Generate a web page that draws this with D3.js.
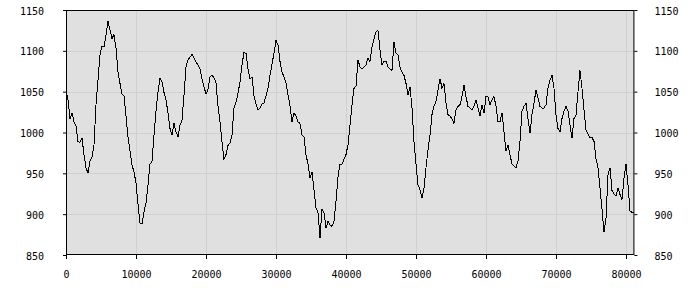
<!DOCTYPE html>
<html>
<head>
<meta charset="utf-8">
<script src="https://cdn.jsdelivr.net/npm/d3@7"></script>
<style>
  body { margin: 0; background: #fff; }
  svg { display: block; }
</style>
</head>
<body>
<svg id="chart" width="700" height="300"></svg>
<script>
// values, one sample every 2 px of the plot
const xStep = 20000 / 70;
const yValues = [
  1052, 1040, 1017, 1024, 1013, 1008, 989, 988, 993, 973, 957, 950, 965, 970, 985, 1034, 1064, 1095, 1106, 1105,
  1119, 1136, 1126, 1115, 1120, 1103, 1074, 1060, 1047, 1045, 1020, 995, 977, 960, 952, 938, 912, 889, 888, 903,
  914, 936, 961, 965, 997, 1026, 1050, 1066, 1062, 1049, 1040, 1024, 1005, 997, 1011, 1001, 995,
  1009, 1015, 1046, 1080, 1089, 1092, 1096, 1091, 1086, 1083, 1078, 1066, 1056, 1047, 1053, 1068, 1070, 1067, 1061, 1032,
  1013, 989, 967, 973, 984, 987, 997, 1030, 1037, 1048, 1062, 1083, 1098, 1097, 1078, 1066, 1068, 1045, 1035, 1028,
  1030, 1035, 1036, 1045, 1054, 1070, 1084, 1097, 1113, 1107, 1087, 1074, 1068, 1061, 1046, 1033, 1013,
  1024, 1020, 1013, 1011, 997, 995, 973, 961, 944, 952, 930, 908, 902, 871, 906, 902, 883, 891, 887, 885,
  891, 916, 946, 961, 961, 967, 973, 985, 1009, 1034, 1054, 1057, 1089, 1080, 1078, 1080, 1083, 1091, 1087, 1105,
  1115, 1123, 1125, 1101, 1083, 1087, 1087, 1080, 1078, 1076, 1111, 1097, 1095, 1080, 1074, 1070, 1060,
  1046, 1056, 1030, 989, 961, 936, 930, 920, 932, 957, 979, 997, 1022, 1032, 1038, 1052, 1066, 1054, 1060, 1036,
  1022, 1020, 1017, 1011, 1028, 1032, 1034, 1044, 1058, 1044, 1032, 1030, 1028, 1032, 1040, 1030, 1020, 1034, 1024, 1044,
  1044, 1034, 1040, 1044, 1032, 1013, 1013, 1024, 1001, 977, 985, 973, 961, 959, 957, 965, 989,
  1026, 1032, 1036, 1017, 999, 1022, 1036, 1052, 1042, 1032, 1030, 1030, 1034, 1054, 1064, 1070, 1054, 1022, 1005, 1001,
  1017, 1026, 1032, 1026, 1009, 993, 1017, 1021, 1050, 1076, 1054, 1028, 1003, 998, 994, 994, 989, 968, 957, 932,
  906, 878, 895, 948, 957, 929, 925, 922, 932, 924, 918, 944, 961, 936, 904, 902, 902
];
const xTicks = [0, 10000, 20000, 30000, 40000, 50000, 60000, 70000, 80000];
const yTicks = [850, 900, 950, 1000, 1050, 1100, 1150];
const xMax = 81200;

const margin = { left: 66, top: 10 };
const innerWidth = (xMax / 10000) * 70;
const innerHeight = 245;

const svg = d3.select('#chart');

const xScale = d3.scaleLinear().domain([0, xMax]).range([0, innerWidth]);
const yScale = d3.scaleLinear().domain([850, 1150]).range([innerHeight, 0]);
const plain = d3.format('d');

const g = svg.append('g')
  .attr('transform', `translate(${margin.left},${margin.top})`);

g.append('rect')
  .attr('width', innerWidth)
  .attr('height', innerHeight)
  .attr('fill', '#e0e0e0');

// grid
g.append('g')
  .selectAll('line')
  .data(yTicks.slice(1, -1))
  .join('line')
  .attr('x1', 0)
  .attr('x2', innerWidth)
  .attr('y1', (d) => Math.round(yScale(d)) + 0.5)
  .attr('y2', (d) => Math.round(yScale(d)) + 0.5)
  .attr('stroke', '#d0d0d0');

g.append('g')
  .selectAll('line')
  .data(xTicks.slice(1))
  .join('line')
  .attr('x1', (d) => Math.round(xScale(d)) + 0.5)
  .attr('x2', (d) => Math.round(xScale(d)) + 0.5)
  .attr('y1', 0)
  .attr('y2', innerHeight)
  .attr('stroke', '#d0d0d0');

const line = d3.line()
  .x((d, i) => xScale(i * xStep))
  .y((d) => yScale(d));

g.append('path')
  .datum(yValues)
  .attr('fill', 'none')
  .attr('stroke', '#000')
  .attr('stroke-width', 1)
  .attr('shape-rendering', 'crispEdges')
  .attr('d', line);

g.append('rect')
  .attr('x', 0.5)
  .attr('y', 0.5)
  .attr('width', innerWidth - 1)
  .attr('height', innerHeight - 1)
  .attr('fill', 'none')
  .attr('stroke', '#000');

const styleAxis = (sel) => {
  sel.select('.domain').remove();
  sel.selectAll('text')
    .attr('font-family', '"DejaVu Sans Mono", monospace')
    .attr('font-size', 10)
    .attr('fill', '#000');
  sel.selectAll('line').attr('stroke', '#000');
};

g.append('g')
  .call(d3.axisLeft(yScale).tickValues(yTicks).tickSize(3).tickPadding(19).tickFormat(plain))
  .call(styleAxis)
  .selectAll('text').attr('dy', '0.4em');

g.append('g')
  .attr('transform', `translate(${innerWidth},0)`)
  .call(d3.axisRight(yScale).tickValues(yTicks).tickSize(3).tickPadding(17).tickFormat(plain))
  .call(styleAxis)
  .selectAll('text').attr('dy', '0.4em');

g.append('g')
  .attr('transform', `translate(0,${innerHeight})`)
  .call(d3.axisBottom(xScale).tickValues(xTicks).tickSize(4).tickPadding(12).tickFormat(plain))
  .call(styleAxis);
</script>
</body>
</html>
